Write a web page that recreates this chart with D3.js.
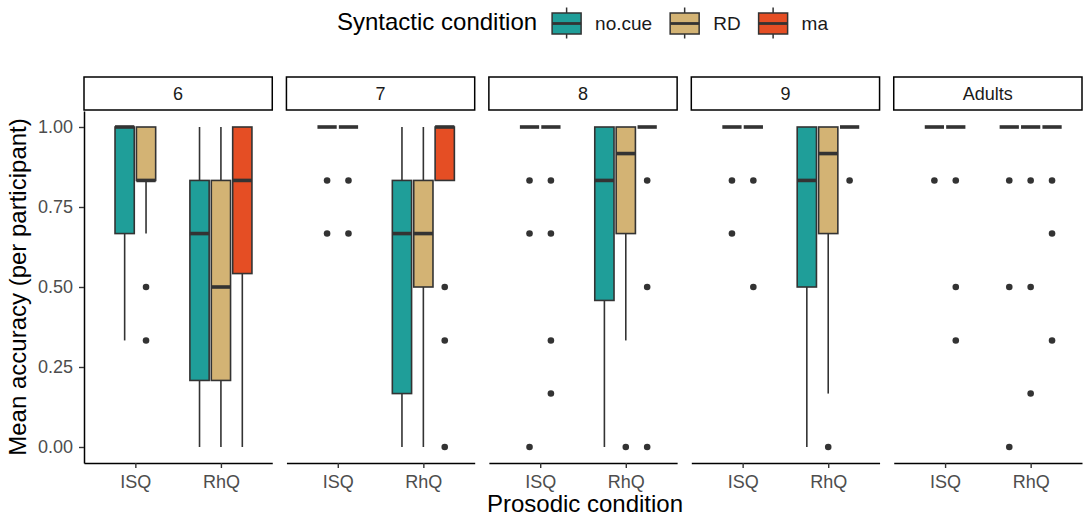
<!DOCTYPE html>
<html lang="en">
<head>
    <meta charset="UTF-8">
    <title>Mean accuracy by prosodic and syntactic condition</title>
    <script src="https://d3js.org/d3.v7.min.js"></script>
    <style>
        body {
            margin: 0;
            background-color: #ffffff;
            font-family: "Liberation Sans", Arial, sans-serif;
        }
        svg {
            display: block;
        }
        .tick text {
            font-size: 18px;
            fill: #4d4d4d;
        }
        .tick line {
            stroke: #333333;
            stroke-width: 1.4px;
        }
        .domain {
            stroke: #000000;
            stroke-width: 1.5px;
        }
    </style>
</head>
<body>
    <div id="chart"></div>

    <script>
        // Categories
        const panels = ["6", "7", "8", "9", "Adults"];
        const prosodic = ["ISQ", "RhQ"];
        const syntactic = ["no.cue", "RD", "ma"];
        const colours = ["#1f9e99", "#d3b374", "#e54e24"];
        const yTicks = [0, 0.25, 0.5, 0.75, 1];

        // Box summaries, one entry per box
        const boxPanel    = ["6","6","6","6","6", "7","7","7","7","7", "8","8","8","8","8", "9","9","9","9","9", "Adults","Adults","Adults","Adults","Adults"];
        const boxProsodic = ["ISQ","ISQ","RhQ","RhQ","RhQ", "ISQ","ISQ","RhQ","RhQ","RhQ", "ISQ","ISQ","RhQ","RhQ","RhQ", "ISQ","ISQ","RhQ","RhQ","RhQ", "ISQ","ISQ","RhQ","RhQ","RhQ"];
        const boxCue      = ["no.cue","RD","no.cue","RD","ma", "no.cue","RD","no.cue","RD","ma", "no.cue","RD","no.cue","RD","ma", "no.cue","RD","no.cue","RD","ma", "no.cue","RD","no.cue","RD","ma"];
        const whiskerLow  = [0.333, 0.667, 0, 0, 0,   1, 1, 0, 0, 0.833,   1, 1, 0, 0.333, 1,   1, 1, 0, 0.167, 1,   1, 1, 1, 1, 1];
        const q1          = [0.667, 0.833, 0.208, 0.208, 0.542,   1, 1, 0.167, 0.5, 0.833,   1, 1, 0.458, 0.667, 1,   1, 1, 0.5, 0.667, 1,   1, 1, 1, 1, 1];
        const median      = [1, 0.833, 0.667, 0.5, 0.833,   1, 1, 0.667, 0.667, 1,   1, 1, 0.833, 0.917, 1,   1, 1, 0.833, 0.917, 1,   1, 1, 1, 1, 1];
        const q3          = [1, 1, 0.833, 0.833, 1,   1, 1, 0.833, 0.833, 1,   1, 1, 1, 1, 1,   1, 1, 1, 1, 1,   1, 1, 1, 1, 1];
        const whiskerHigh = [1, 1, 1, 1, 1,   1, 1, 1, 1, 1,   1, 1, 1, 1, 1,   1, 1, 1, 1, 1,   1, 1, 1, 1, 1];
        const outliers = [
            [], [0.5, 0.333], [], [], [],
            [0.833, 0.667], [0.833, 0.667], [], [], [0.5, 0.333, 0],
            [0.833, 0.667, 0], [0.833, 0.667, 0.333, 0.167], [], [0], [0.833, 0.5, 0],
            [0.833, 0.667], [0.833, 0.5], [], [0], [0.833],
            [0.833], [0.833, 0.5, 0.333], [0.833, 0.5, 0], [0.833, 0.5, 0.167], [0.833, 0.667, 0.333]
        ];

        const boxes = boxPanel.map((p, i) => ({
            panel: p, prosodic: boxProsodic[i], cue: boxCue[i],
            lo: whiskerLow[i], q1: q1[i], med: median[i], q3: q3[i], hi: whiskerHigh[i],
            out: outliers[i]
        }));

        // Tamanho
        const width = 1086;
        const height = 516;
        const plotLeft = 84, plotRight = 1082;
        const plotTop = 111, plotBottom = 463;
        const stripTop = 77;

        const svg = d3.select("#chart")
            .append("svg")
            .attr("width", width)
            .attr("height", height)
            .style("background", "#ffffff");

        // Scales
        const xPanel = d3.scaleBand()
            .domain(panels)
            .range([plotLeft, plotRight])
            .paddingInner(0.07);
        const bw = xPanel.bandwidth();

        const xPro = d3.scalePoint()
            .domain(prosodic)
            .range([0, bw])
            .padding(0.6);
        const step = xPro.step();
        const slot = step * 0.75 / 3;
        const boxW = slot * 0.9;

        const y = d3.scaleLinear()
            .domain([-0.05, 1.05])
            .range([plotBottom, plotTop]);

        const colour = d3.scaleOrdinal().domain(syntactic).range(colours);

        // Panels
        const panel = svg.selectAll("g.panel")
            .data(panels)
            .enter()
            .append("g")
            .attr("class", "panel")
            .attr("transform", d => `translate(${xPanel(d)},0)`);

        // Strips
        panel.append("rect")
            .attr("x", 0)
            .attr("y", stripTop)
            .attr("width", bw)
            .attr("height", plotTop - stripTop - 1)
            .attr("fill", "#ffffff")
            .attr("stroke", "#000000")
            .attr("stroke-width", 1.5);

        panel.append("text")
            .attr("x", bw / 2)
            .attr("y", (stripTop + plotTop) / 2)
            .attr("dy", "0.35em")
            .attr("text-anchor", "middle")
            .attr("font-size", 18)
            .attr("fill", "#1a1a1a")
            .text(d => d);

        // Bottom axis in each panel
        panel.append("g")
            .attr("transform", `translate(0,${plotBottom})`)
            .call(d3.axisBottom(xPro).tickSize(5).tickSizeOuter(0).tickPadding(7));

        // Left axis only on first panel
        svg.append("g")
            .attr("transform", `translate(${plotLeft},0)`)
            .call(d3.axisLeft(y).tickValues(yTicks).tickFormat(d3.format(".2f"))
                .tickSize(5).tickSizeOuter(0).tickPadding(6));

        // Box positions: dodge the boxes present at each category
        boxes.forEach(b => {
            const present = syntactic.filter(s => boxes.some(o => o.panel === b.panel && o.prosodic === b.prosodic && o.cue === s));
            const k = present.indexOf(b.cue);
            b.cx = xPanel(b.panel) + xPro(b.prosodic) + (k - (present.length - 1) / 2) * slot;
        });

        const box = svg.append("g")
            .selectAll("g")
            .data(boxes)
            .enter()
            .append("g");

        // Whiskers
        box.append("line")
            .attr("x1", d => d.cx).attr("x2", d => d.cx)
            .attr("y1", d => y(d.hi)).attr("y2", d => y(d.q3))
            .attr("stroke", "#333333").attr("stroke-width", 1.6);
        box.append("line")
            .attr("x1", d => d.cx).attr("x2", d => d.cx)
            .attr("y1", d => y(d.q1)).attr("y2", d => y(d.lo))
            .attr("stroke", "#333333").attr("stroke-width", 1.6);

        // Boxes
        box.append("rect")
            .attr("x", d => d.cx - boxW / 2)
            .attr("y", d => y(d.q3))
            .attr("width", boxW)
            .attr("height", d => y(d.q1) - y(d.q3))
            .attr("fill", d => colour(d.cue))
            .attr("stroke", "#333333")
            .attr("stroke-width", 1.6);

        // Medians
        box.append("line")
            .attr("x1", d => d.cx - boxW / 2).attr("x2", d => d.cx + boxW / 2)
            .attr("y1", d => y(d.med)).attr("y2", d => y(d.med))
            .attr("stroke", "#333333").attr("stroke-width", 3.6);

        // Outliers
        box.selectAll("circle")
            .data(d => d.out.map(v => ({ cx: d.cx, v })))
            .enter()
            .append("circle")
            .attr("cx", d => d.cx)
            .attr("cy", d => y(d.v))
            .attr("r", 3.3)
            .attr("fill", "#333333");

        // Axis titles
        svg.append("text")
            .attr("x", 585)
            .attr("y", 512)
            .attr("text-anchor", "middle")
            .attr("font-size", 24)
            .attr("fill", "#000000")
            .text("Prosodic condition");

        svg.append("text")
            .attr("transform", `translate(26,${(plotTop + plotBottom) / 2}) rotate(-90)`)
            .attr("text-anchor", "middle")
            .attr("font-size", 24)
            .attr("fill", "#000000")
            .text("Mean accuracy (per participant)");

        // Legend
        const legend = svg.append("g");
        const title = legend.append("text")
            .attr("x", 337)
            .attr("y", 22)
            .attr("dy", "0.35em")
            .attr("font-size", 24)
            .attr("fill", "#000000")
            .text("Syntactic condition");

        let lx = 337 + title.node().getComputedTextLength() + 15;
        const keyW = 29, keyMid = 23.5;
        syntactic.forEach(s => {
            legend.append("line")
                .attr("x1", lx + keyW / 2).attr("x2", lx + keyW / 2)
                .attr("y1", keyMid - 16).attr("y2", keyMid + 15)
                .attr("stroke", "#333333").attr("stroke-width", 1.5);
            legend.append("rect")
                .attr("x", lx).attr("y", keyMid - 10.5)
                .attr("width", keyW).attr("height", 21)
                .attr("fill", colour(s))
                .attr("stroke", "#333333").attr("stroke-width", 1.5);
            legend.append("line")
                .attr("x1", lx).attr("x2", lx + keyW)
                .attr("y1", keyMid).attr("y2", keyMid)
                .attr("stroke", "#333333").attr("stroke-width", 2.8);
            const t = legend.append("text")
                .attr("x", lx + keyW + 14)
                .attr("y", keyMid)
                .attr("dy", "0.35em")
                .attr("font-size", 19)
                .attr("fill", "#1a1a1a")
                .text(s);
            lx += keyW + 14 + t.node().getComputedTextLength() + 18;
        });
    </script>
</body>
</html>
